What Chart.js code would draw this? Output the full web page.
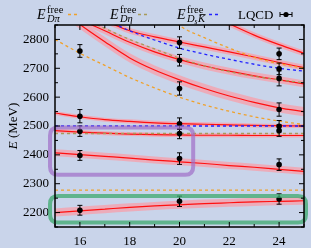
<!DOCTYPE html>
<html>
<head>
<meta charset="utf-8">
<script src="https://cdn.jsdelivr.net/npm/chart.js@4.4.1/dist/chart.umd.min.js"></script>
<style>
html, body { margin: 0; padding: 0; background: #c9d4ea; }
canvas { display: block; }
</style>
</head>
<body>
<canvas id="c" width="311" height="248"></canvas>
<script>
// box size L
const L = [15, 16, 17, 18, 19, 20, 21, 22, 23, 24, 25];

// fitted levels (red lines) in MeV
const fit1 = [2200, 2206, 2212, 2218, 2223, 2227, 2231, 2234, 2237, 2239, 2241];
const fit2 = [2407, 2401, 2395, 2389, 2382, 2376, 2370, 2363, 2357, 2350, 2343];
const fit3 = [2484, 2479, 2475, 2472, 2470, 2469, 2468, 2468, 2467, 2467, 2467];
const fit4 = [2545, 2532, 2522, 2516, 2511, 2508, 2506, 2504, 2502, 2501, 2500];
const fit5 = [2920, 2852, 2792, 2736, 2694, 2660, 2630, 2604, 2582, 2563, 2550];
const fit6 = [2940, 2900, 2865, 2830, 2809, 2791, 2774, 2757, 2739, 2720, 2702];
const fit7 = [null, null, null, null, null, null, 2895, 2854, 2815, 2782, 2752];
const fit8 = [2920, 2870, 2830, 2790, 2757, 2730, 2708, 2690, 2674, 2660, 2646];
const fits = [fit1, fit2, fit3, fit4, fit5, fit6, fit7, fit8];
const bandHalf = [14, 12, 7, 7, 16, 10, 10, 12];

// free energies
const dpiThr = [2278, 2278];
const detaThr = [2474, 2474];
const dskThr = [2500, 2500];
const thrL = [15, 25];
const dpi1 = [2800, 2752, 2710, 2668, 2632, 2600, 2573, 2551, 2532, 2517, 2505];
const dpi2 = [null, null, null, null, 2925, 2848, 2806, 2770, 2738, 2716, 2700];
const deta1 = [2930, 2878, 2838, 2800, 2767, 2735, 2708, 2688, 2672, 2660, 2650];
const dsk1 = [2960, 2910, 2870, 2830, 2798, 2770, 2749, 2731, 2714, 2700, 2690];

// lattice QCD levels
const latL = [16, 16, 16, 16, 16, 20, 20, 20, 20, 20, 20, 20, 24, 24, 24, 24, 24, 24, 24, 24];
const latE = [2760, 2534, 2482, 2398, 2208, 2789, 2728, 2630, 2508, 2474, 2387, 2239, 2750, 2698, 2665, 2557, 2499, 2484, 2366, 2247];
const latErr = [22, 23, 18, 17, 17, 20, 20, 23, 20, 18, 20, 18, 20, 20, 26, 23, 20, 20, 20, 18];

// highlighted boxes
const purpleBox = { x: [14.8, 20.55], y: [2331, 2495] };
const greenBox = { x: [14.8, 25.08], y: [2166, 2257] };

const orange = '#f0a12a';
const khaki = '#a89a5a';
const blue = '#2222ff';
const red = '#ff1010';
const pink = 'rgba(255,150,160,0.65)';
const serif = 'Liberation Serif';

function pts(xs, ys) {
    return xs.map((v, i) => ({ x: v, y: ys[i] }));
}

let datasets = [];
datasets.push({ data: pts(latL, latE), showLine: false, pointRadius: 2.8, pointBackgroundColor: '#000', pointBorderWidth: 0, order: 0 });

function dashed(xs, ys, color) {
    datasets.push({ data: pts(xs, ys), borderColor: color, borderWidth: 1.3, borderDash: [3, 3], pointRadius: 0, fill: false, cubicInterpolationMode: 'monotone', order: 1 });
}
dashed(thrL, dpiThr, orange);
dashed(thrL, detaThr, khaki);
dashed(thrL, dskThr, blue);
dashed(L, dpi1, orange);
dashed(L, dpi2, orange);
dashed(L, deta1, khaki);
dashed(L, dsk1, blue);

fits.forEach((f, k) => {
    const up = f.map(v => v === null ? null : v + bandHalf[k]);
    const lo = f.map(v => v === null ? null : v - bandHalf[k]);
    datasets.push({ data: pts(L, up), borderWidth: 0, pointRadius: 0, fill: '+1', backgroundColor: pink, cubicInterpolationMode: 'monotone', order: 3 });
    datasets.push({ data: pts(L, lo), borderWidth: 0, pointRadius: 0, fill: false, cubicInterpolationMode: 'monotone', order: 3 });
    datasets.push({ data: pts(L, f), borderColor: red, borderWidth: 1.2, pointRadius: 0, fill: false, cubicInterpolationMode: 'monotone', order: 2 });
});

function roundBox(ctx, x0, y0, x1, y1, r) {
    ctx.beginPath();
    ctx.moveTo(x0 + r, y0);
    ctx.lineTo(x1 - r, y0);
    ctx.quadraticCurveTo(x1, y0, x1, y0 + r);
    ctx.lineTo(x1, y1 - r);
    ctx.quadraticCurveTo(x1, y1, x1 - r, y1);
    ctx.lineTo(x0 + r, y1);
    ctx.quadraticCurveTo(x0, y1, x0, y1 - r);
    ctx.lineTo(x0, y0 + r);
    ctx.quadraticCurveTo(x0, y0, x0 + r, y0);
    ctx.stroke();
}

function legendE(ctx, x, sub) {
    ctx.font = 'italic 14px ' + serif;
    ctx.fillText('E', x, 19);
    ctx.font = '10.5px ' + serif;
    ctx.fillText('free', x + 10, 12.5);
    ctx.font = 'italic 10.5px ' + serif;
    ctx.fillText(sub, x + 10, 22);
}

function legendDash(ctx, x, color) {
    ctx.save();
    ctx.strokeStyle = color;
    ctx.lineWidth = 1.3;
    ctx.setLineDash([3, 3]);
    ctx.beginPath();
    ctx.moveTo(x, 14.5);
    ctx.lineTo(x + 10, 14.5);
    ctx.stroke();
    ctx.restore();
}

const decor = {
    id: 'decor',
    afterDatasetsDraw(chart) {
        const { ctx, scales: { x, y } } = chart;
        ctx.save();
        // error bars
        ctx.strokeStyle = '#000';
        ctx.lineWidth = 1;
        latL.forEach((l, i) => {
            const px = x.getPixelForValue(l);
            const y0 = y.getPixelForValue(latE[i] - latErr[i]);
            const y1 = y.getPixelForValue(latE[i] + latErr[i]);
            ctx.beginPath();
            ctx.moveTo(px, y0); ctx.lineTo(px, y1);
            ctx.moveTo(px - 2.5, y0); ctx.lineTo(px + 2.5, y0);
            ctx.moveTo(px - 2.5, y1); ctx.lineTo(px + 2.5, y1);
            ctx.stroke();
        });
        // boxes
        ctx.lineWidth = 4;
        ctx.strokeStyle = 'rgba(160,110,200,0.7)';
        roundBox(ctx, x.getPixelForValue(purpleBox.x[0]), y.getPixelForValue(purpleBox.y[1]),
            x.getPixelForValue(purpleBox.x[1]), y.getPixelForValue(purpleBox.y[0]), 8);
        ctx.strokeStyle = 'rgba(60,170,110,0.75)';
        roundBox(ctx, x.getPixelForValue(greenBox.x[0]), y.getPixelForValue(greenBox.y[1]),
            x.getPixelForValue(greenBox.x[1]), y.getPixelForValue(greenBox.y[0]), 8);
        ctx.restore();
    },
    afterDraw(chart) {
        const { ctx, chartArea: a, scales: { x, y } } = chart;
        ctx.save();
        ctx.setTransform(1, 0, 0, 1, 0, 0);
        ctx.strokeStyle = '#000';
        ctx.fillStyle = '#000';
        ctx.textAlign = 'left';
        // inward ticks on all sides
        ctx.lineWidth = 1;
        ctx.beginPath();
        x.ticks.forEach(t => {
            const px = x.getPixelForValue(t.value);
            const len = t.value % 2 === 0 ? 5 : 3;
            ctx.moveTo(px, a.bottom); ctx.lineTo(px, a.bottom - len);
            ctx.moveTo(px, a.top); ctx.lineTo(px, a.top + len);
        });
        y.ticks.forEach(t => {
            const py = y.getPixelForValue(t.value);
            const len = t.value % 100 === 0 ? 5 : 3;
            ctx.moveTo(a.left, py); ctx.lineTo(a.left + len, py);
            ctx.moveTo(a.right, py); ctx.lineTo(a.right - len, py);
        });
        ctx.stroke();
        // frame
        ctx.lineWidth = 1.5;
        ctx.strokeRect(a.left, a.top, a.right - a.left, a.bottom - a.top);

        // y title, rotated
        ctx.save();
        ctx.setTransform(0, -1, 1, 0, 14, 126);
        ctx.textBaseline = 'middle';
        ctx.font = 'italic 13px ' + serif;
        const wE = ctx.measureText('E').width;
        ctx.font = '13px ' + serif;
        const wR = ctx.measureText(' (MeV)').width;
        const x0 = -(wE + wR) / 2;
        ctx.font = 'italic 13px ' + serif;
        ctx.fillText('E', x0, 0);
        ctx.font = '13px ' + serif;
        ctx.fillText(' (MeV)', x0 + wE, 0);
        ctx.restore();

        // legend
        ctx.textBaseline = 'alphabetic';
        legendE(ctx, 37, 'Dπ');
        legendDash(ctx, 68, orange);
        legendE(ctx, 110, 'Dη');
        legendDash(ctx, 138, khaki);
        legendE(ctx, 177, '');
        ctx.font = 'italic 10.5px ' + serif;
        ctx.fillText('D', 187, 22);
        const wD = ctx.measureText('D').width;
        ctx.font = 'italic 7.5px ' + serif;
        ctx.fillText('s', 187 + wD, 24);
        ctx.font = 'italic 10.5px ' + serif;
        const kx = 187 + wD + 3.5;
        ctx.fillText('K', kx, 22);
        ctx.lineWidth = 0.8;
        ctx.beginPath();
        ctx.moveTo(kx + 1.5, 14.5); ctx.lineTo(kx + 7.5, 14.5);
        ctx.stroke();
        legendDash(ctx, 209, blue);
        ctx.font = '13px ' + serif;
        ctx.fillText('LQCD', 238, 18.5);
        ctx.lineWidth = 1;
        ctx.beginPath();
        ctx.moveTo(280, 14.5); ctx.lineTo(292, 14.5);
        ctx.moveTo(280, 12); ctx.lineTo(280, 17);
        ctx.moveTo(292, 12); ctx.lineTo(292, 17);
        ctx.stroke();
        ctx.beginPath();
        ctx.arc(286, 14.5, 2.6, 0, Math.PI * 2);
        ctx.fill();
        ctx.restore();
    }
};

const tickFont = { family: serif, size: 13 };

new Chart(document.getElementById('c'), {
    type: 'line',
    data: { datasets: datasets },
    options: {
        responsive: false,
        animation: false,
        layout: { padding: { top: 25, right: 4, left: 0, bottom: 0 } },
        plugins: { legend: { display: false }, tooltip: { enabled: false } },
        scales: {
            x: {
                type: 'linear', min: 15, max: 25,
                grid: { display: false, drawTicks: false }, border: { display: false },
                ticks: {
                    stepSize: 1, autoSkip: false, maxRotation: 0, padding: 7, color: '#000', font: tickFont,
                    callback: v => (v % 2 === 0 && v >= 16 && v <= 24) ? v : ''
                },
                afterFit: s => { s.height = 21; }
            },
            y: {
                type: 'linear', min: 2150, max: 2850,
                grid: { display: false, drawTicks: false }, border: { display: false },
                ticks: {
                    stepSize: 50, autoSkip: false, padding: 6, color: '#000', font: tickFont,
                    callback: v => (v % 100 === 0 && v >= 2200 && v <= 2800) ? v : ''
                },
                afterFit: s => { s.width = 55; }
            }
        }
    },
    plugins: [decor]
});
</script>
</body>
</html>
